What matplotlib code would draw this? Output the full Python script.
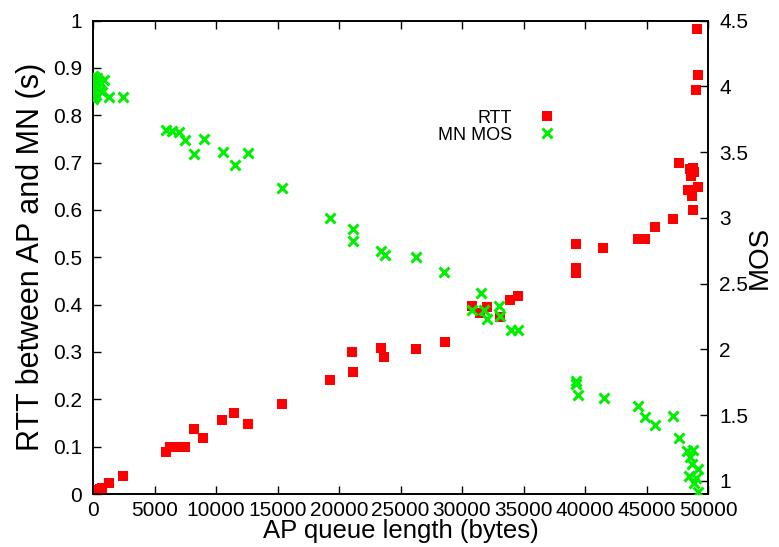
import matplotlib
matplotlib.use("Agg")
import matplotlib.pyplot as plt
from matplotlib.lines import Line2D

plt.rcParams['font.family'] = ['Liberation Sans', 'DejaVu Sans']

# RTT data (queue length in bytes, RTT in s)
rtt_q = [0, 100, 250, 400, 550, 700, 1300, 2400,
         5900, 6300, 6700, 7500, 8240, 8970, 10500, 11500, 12640, 15400,
         19250, 21040, 21100, 23400, 23650, 26260, 28630,
         30830, 31480, 32060, 33100, 33930, 34580,
         39230, 39230, 39300, 41500, 44300, 44860, 45680, 47150,
         47630, 48530, 48780, 48860, 48610, 48370, 49190, 48700, 48780,
         49100, 49190, 49020]
rtt_s = [0.002, 0.004, 0.008, 0.006, 0.010, 0.012, 0.023, 0.038,
         0.088, 0.100, 0.100, 0.100, 0.138, 0.118, 0.156, 0.171, 0.148, 0.190,
         0.240, 0.300, 0.257, 0.308, 0.289, 0.306, 0.320,
         0.397, 0.382, 0.395, 0.373, 0.409, 0.418,
         0.477, 0.466, 0.527, 0.519, 0.538, 0.538, 0.563, 0.580,
         0.700, 0.686, 0.688, 0.679, 0.671, 0.643, 0.648, 0.629, 0.599,
         0.983, 0.884, 0.854]

# MOS data (queue length in bytes, MOS)
mos_q = [0, 50, 100, 150, 200, 80, 30, 300, 400, 250, 500, 600, 350, 120, 700, 900,
         1300, 2450,
         5900, 6400, 7000, 7500, 9050, 8240, 10600, 11580, 12640, 15330,
         19250, 21120, 21120, 23400, 23730, 26260, 28550,
         31560, 30830, 31800, 32060, 33030, 33110, 34010, 34580,
         39230, 39300, 39400, 41520, 44290, 44860, 45680, 47150, 47630,
         48290, 48780, 48530, 48700, 49190, 48450, 49020, 48860, 49190]
mos_v = [4.08, 4.05, 4.02, 3.98, 3.95, 3.92, 3.90, 4.06, 4.00, 3.93, 4.04, 3.97, 3.99, 4.07, 3.96, 4.05,
         3.92, 3.92,
         3.67, 3.66, 3.65, 3.59, 3.60, 3.485, 3.50, 3.40, 3.49, 3.227,
         3.00, 2.917, 2.82, 2.75, 2.72, 2.70, 2.59,
         2.43, 2.30, 2.30, 2.227, 2.33, 2.25, 2.144, 2.15,
         1.758, 1.735, 1.65, 1.63, 1.568, 1.485, 1.424, 1.49, 1.326,
         1.227, 1.235, 1.18, 1.13, 1.09, 1.04, 1.02, 0.985, 0.917]

x_ticks = [0, 5000, 10000, 15000, 20000, 25000, 30000, 35000, 40000, 45000, 50000]
y_ticks = [0, 0.1, 0.2, 0.3, 0.4, 0.5, 0.6, 0.7, 0.8, 0.9, 1]
y_tick_labels = ['0', '0.1', '0.2', '0.3', '0.4', '0.5', '0.6', '0.7', '0.8', '0.9', '1']
mos_ticks = [1, 1.5, 2, 2.5, 3, 3.5, 4, 4.5]
mos_tick_labels = ['1', '1.5', '2', '2.5', '3', '3.5', '4', '4.5']

red = '#ff0000'
green = '#00ee00'

W, H = 779, 547
fig = plt.figure(figsize=(W / 100, H / 100), dpi=100)
ax = fig.add_axes([93/W, 1 - 494/H, (708 - 93)/W, (494 - 20.5)/H])
ax2 = ax.twinx()

ax.plot(rtt_q, rtt_s, linestyle='none', marker='s', ms=6.5, mfc=red, mec=red, mew=0, zorder=3)
ax2.plot(mos_q, mos_v, linestyle='none', marker='x', ms=6.5, mec=green, mew=2.2, zorder=3)

ax.set_xlim(0, 50000)
ax.set_ylim(0, 1)
ax2.set_ylim(0.9, 4.5)

ax.set_xticks(x_ticks)
ax.set_xticklabels([str(t) for t in x_ticks])
ax.set_yticks(y_ticks)
ax.set_yticklabels(y_tick_labels)
ax2.set_yticks(mos_ticks)
ax2.set_yticklabels(mos_tick_labels)

ax.tick_params(axis='x', direction='in', top=True, labelsize=15, length=6, width=1, pad=5, colors='black')
ax.tick_params(axis='y', direction='in', right=False, labelsize=15, length=6, width=1, pad=8)
ax2.tick_params(axis='y', direction='in', labelsize=15, length=6, width=1, pad=8)

for a in (ax, ax2):
    for s in a.spines.values():
        s.set_linewidth(1.2)

ax.set_xlabel('AP queue length (bytes)', fontsize=18.5, labelpad=-1)
ax.set_ylabel('RTT between AP and MN (s)', fontsize=22, labelpad=5)
ax2.set_ylabel('MOS', fontsize=20)
ax2.yaxis.set_label_coords((747 - 93) / (708 - 93), 0.5)

handles = [Line2D([], [], linestyle='none', marker='s', ms=6.5, mfc=red, mec=red, mew=0),
           Line2D([], [], linestyle='none', marker='x', ms=6.5, mec=green, mew=2.2)]
ax.legend(handles, ['RTT', 'MN MOS'], loc='upper right', bbox_to_anchor=(0.772, 0.827),
          frameon=False, markerfirst=False, fontsize=13, handlelength=1.5,
          handletextpad=1.2, labelspacing=0.0, borderaxespad=0)

fig.savefig('out.png', dpi=100)
